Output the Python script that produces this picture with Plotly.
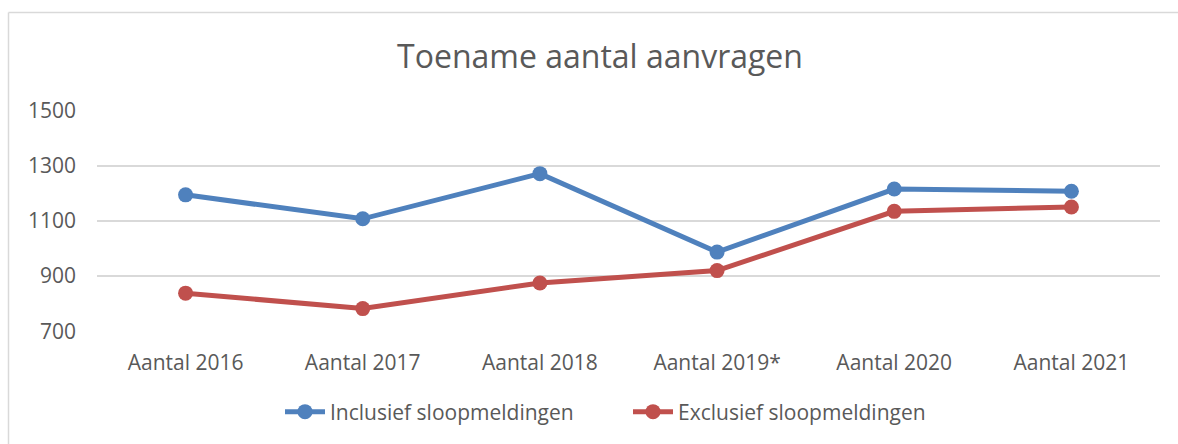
import plotly.graph_objects as go

categories = ["Aantal 2016", "Aantal 2017", "Aantal 2018", "Aantal 2019*", "Aantal 2020", "Aantal 2021"]
inclusief = [1195, 1108, 1272, 987, 1216, 1208]
exclusief = [838, 782, 875, 920, 1135, 1151]
series_names = ["Inclusief sloopmeldingen", "Exclusief sloopmeldingen"]
y_ticks = [700, 900, 1100, 1300, 1500]
title_text = "Toename aantal aanvragen"

W, H = 1178, 444
L, R, T, B = 97, W - 1160, 110, H - 332
pw, ph = W - L - R, H - T - B

FONT = "Open Sans"
GREY = "#595959"

fig = go.Figure()
fig.add_trace(go.Scatter(x=categories, y=inclusief, name=series_names[0], mode="lines+markers",
                         line=dict(color="#4F81BD", width=5), marker=dict(size=15, color="#4F81BD")))
fig.add_trace(go.Scatter(x=categories, y=exclusief, name=series_names[1], mode="lines+markers",
                         line=dict(color="#C0504D", width=5), marker=dict(size=15, color="#C0504D")))

def px_x(px):
    return (px - L) / pw

def px_y(py):
    return 1 - (py - T) / ph

# chart border (left and top edges visible)
fig.add_shape(type="line", xref="paper", yref="paper", x0=px_x(8.5), x1=px_x(8.5), y0=px_y(12.5), y1=px_y(H + 5),
              line=dict(color="#D9D9D9", width=1.5))
fig.add_shape(type="line", xref="paper", yref="paper", x0=px_x(8.5), x1=px_x(W + 5), y0=px_y(12.5), y1=px_y(12.5),
              line=dict(color="#D9D9D9", width=1.5))

fig.update_layout(
    width=W, height=H,
    margin=dict(l=L, r=R, t=T, b=B, autoexpand=False),
    paper_bgcolor="white", plot_bgcolor="white",
    font=dict(family=FONT, color=GREY, size=21),
    title=dict(text=title_text, x=600 / W, xref="container", xanchor="center",
               y=1 - 57 / H, yref="container", yanchor="middle",
               font=dict(family=FONT, size=32, color=GREY)),
    xaxis=dict(showgrid=False, showline=False, zeroline=False, ticks="",
               tickfont=dict(size=21, color=GREY), ticklabelstandoff=16,
               range=[-0.5, len(categories) - 0.5]),
    yaxis=dict(range=[697, 1503], tickvals=y_ticks, showgrid=True, gridcolor="#D9D9D9", gridwidth=1.5,
               zeroline=False, showline=False, ticks="", tickfont=dict(size=21, color=GREY),
               ticklabelstandoff=20),
    legend=dict(orientation="h", x=px_x(280), xanchor="left", y=px_y(412), yanchor="middle",
                font=dict(size=21, color=GREY), itemwidth=40, tracegroupgap=0,
                entrywidth=293, entrywidthmode="pixels"),
    showlegend=True,
)

fig.write_html("out.html", config={"displayModeBar": False},
               post_script="document.body.style.margin='0';document.body.style.padding='0';")
